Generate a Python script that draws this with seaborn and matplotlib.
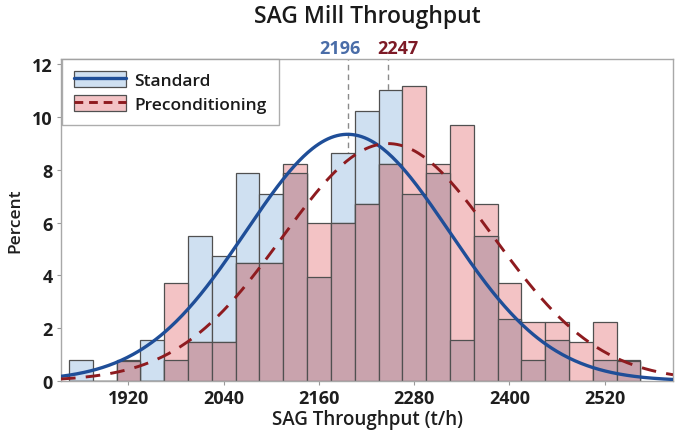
import numpy as np
import pandas as pd
import matplotlib
matplotlib.use("Agg")
import matplotlib.pyplot as plt
import seaborn as sns
from matplotlib.patches import Patch
from matplotlib.lines import Line2D

# bin midpoints (t/h), bin width 30
bin_mids = [1860, 1890, 1920, 1950, 1980, 2010, 2040, 2070, 2100, 2130, 2160, 2190,
            2220, 2250, 2280, 2310, 2340, 2370, 2400, 2430, 2460, 2490, 2520, 2550]
bin_width = 30

# percent of samples per bin
standard_pct = [0.79, 0.0, 0.79, 1.57, 0.79, 5.51, 4.72, 7.87, 7.09, 7.87, 3.94, 8.66,
                10.24, 11.02, 7.09, 7.87, 1.57, 5.51, 2.36, 0.79, 1.57, 0.0, 0.79, 0.79]
precond_pct = [0.0, 0.0, 0.75, 0.0, 3.73, 1.49, 1.49, 4.48, 4.48, 8.21, 5.97, 5.97,
               6.72, 8.21, 11.19, 8.21, 9.70, 6.72, 3.73, 2.24, 2.24, 1.49, 2.24, 0.75]

# fitted normal parameters
std_mean, std_sd = 2196, 128
pre_mean, pre_sd = 2247, 133

df = pd.DataFrame({"mid": bin_mids, "Standard": standard_pct, "Preconditioning": precond_pct})
df["both"] = np.minimum(df["Standard"], df["Preconditioning"])

lo = bin_mids[0] - bin_width / 2
hi = bin_mids[-1] + bin_width / 2

sns.set_style("white")
plt.rcParams["font.family"] = ["Open Sans", "DejaVu Sans"]

blue_fill = "#cfe0f1"
pink_fill = "#f3c3c5"
mauve_fill = "#c9a3ad"
blue_line = "#1f4e98"
red_line = "#8e1b1f"
edge = "#505050"

fig, ax = plt.subplots(figsize=(6.78, 4.39), dpi=100)
fig.subplots_adjust(left=0.090, right=0.9926, bottom=0.130, top=0.863)

# mean reference lines
ax.axvline(std_mean, color="#8a8a8a", ls=(0, (4, 3)), lw=1, zorder=0)
ax.axvline(pre_mean, color="#8a8a8a", ls=(0, (4, 3)), lw=1, zorder=0)

for col, fc in [("Standard", blue_fill), ("Preconditioning", pink_fill), ("both", mauve_fill)]:
    sns.histplot(data=df, x="mid", weights=col, binwidth=bin_width, binrange=(lo, hi),
                 ax=ax, color=fc, alpha=1, edgecolor=edge, linewidth=0.9)

# fitted normal curves scaled to percent per bin
xs = np.linspace(1835, 2606, 400)
std_curve = 100 * bin_width * np.exp(-0.5 * ((xs - std_mean) / std_sd) ** 2) / (std_sd * np.sqrt(2 * np.pi))
pre_curve = 100 * bin_width * np.exp(-0.5 * ((xs - pre_mean) / pre_sd) ** 2) / (pre_sd * np.sqrt(2 * np.pi))
sns.lineplot(x=xs, y=std_curve, ax=ax, color=blue_line, lw=2.4, zorder=5)
sns.lineplot(x=xs, y=pre_curve, ax=ax, color=red_line, lw=2.1, zorder=6)
ax.lines[-1].set_dashes([5, 3.5])

ax.set_xlim(1835, 2606)
ax.set_ylim(0, 12.2)
ax.set_xticks([1920, 2040, 2160, 2280, 2400, 2520])
ax.set_yticks([0, 2, 4, 6, 8, 10, 12])
ax.tick_params(axis="both", length=3, width=0.8, color="#999999", labelsize=13,
               labelcolor="#1e1e1e", pad=3)
ax.tick_params(axis="both", direction="out", bottom=True, left=True)
for lab in ax.get_xticklabels() + ax.get_yticklabels():
    lab.set_fontweight("bold")
for s in ax.spines.values():
    s.set_color("#a8a8a8")
    s.set_linewidth(1)

ax.set_xlabel("SAG Throughput (t/h)", fontsize=13.5, fontweight="semibold", color="#1e1e1e", labelpad=1)
ax.set_ylabel("Percent", fontsize=12.5, fontweight="semibold", color="#1e1e1e", labelpad=6)
ax.set_title("SAG Mill Throughput", fontsize=16.5, fontweight="semibold", color="#1a1a1a", pad=27)

ax.text(std_mean - 10, 12.3, str(std_mean), color="#4a6da8", fontsize=13,
        fontweight="bold", ha="center", va="bottom")
ax.text(pre_mean + 12, 12.3, str(pre_mean), color="#7d1a26", fontsize=13,
        fontweight="bold", ha="center", va="bottom")

handles = [
    (Patch(facecolor=blue_fill, edgecolor=edge, linewidth=0.9), Line2D([], [], color=blue_line, lw=2.4)),
    (Patch(facecolor=pink_fill, edgecolor=edge, linewidth=0.9), Line2D([], [], color=red_line, lw=2.1, dashes=[3, 2])),
]
leg = ax.legend(handles, ["Standard", "Preconditioning"], loc="upper left",
                bbox_to_anchor=(0.001, 1.0), borderaxespad=0, fancybox=False,
                frameon=True, edgecolor="#999999", fontsize=12.5, handlelength=3.0,
                handleheight=1.05, labelspacing=0.35, borderpad=0.7, handletextpad=0.5)
leg.get_frame().set_linewidth(1)
for t in leg.get_texts():
    t.set_fontweight("semibold")
    t.set_color("#1a1a1a")

fig.savefig("out.png", dpi=100)
